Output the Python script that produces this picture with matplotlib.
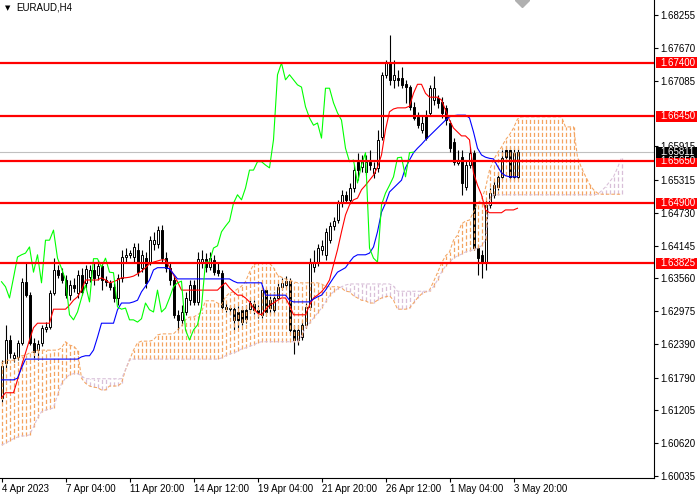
"""
EURAUD H4 candlestick chart with Ichimoku cloud and horizontal price levels.
"""

import matplotlib

matplotlib.use("Agg")
import matplotlib.pyplot as plt
import matplotlib.transforms as mtransforms
from matplotlib.collections import LineCollection
from matplotlib.colors import to_rgba
from matplotlib.patches import Rectangle
import numpy as np

plt.rcParams["font.family"] = ["Liberation Sans", "DejaVu Sans"]

# OHLC for each H4 bar (bar 0 = 4 Apr 2023 12:00)
candle_open = [
    1.6143, 1.6205, 1.6246, 1.6214, 1.6216, 1.6241, 1.6350, 1.6326, 1.6241, 1.6228,
    1.6241, 1.6266, 1.6269, 1.6330, 1.6371, 1.6366, 1.6353, 1.6326, 1.6344, 1.6330,
    1.6362, 1.6348, 1.6358, 1.6371, 1.6362, 1.6378, 1.6353, 1.6348, 1.6341, 1.6321,
    1.6357, 1.6394, 1.6398, 1.6394, 1.6407, 1.6374, 1.6392, 1.6385, 1.6417, 1.6417,
    1.6442, 1.6392, 1.6374, 1.6353, 1.6291, 1.6282, 1.6296, 1.6317, 1.6344, 1.6314,
    1.6385, 1.6391, 1.6376, 1.6389, 1.6371, 1.6366, 1.6305, 1.6301, 1.6301, 1.6296,
    1.6300, 1.6300, 1.6301, 1.6310, 1.6300, 1.6291, 1.6335, 1.6317, 1.6300, 1.6321,
    1.6341, 1.6344, 1.6351, 1.6264, 1.6246, 1.6251, 1.6273, 1.6305, 1.6376, 1.6383,
    1.6407, 1.6398, 1.6424, 1.6449, 1.6460, 1.6490, 1.6505, 1.6496, 1.6517, 1.6564,
    1.6555, 1.6546, 1.6564, 1.6544, 1.6553, 1.6608, 1.6719, 1.6740, 1.6710, 1.6713,
    1.6713, 1.6703, 1.6697, 1.6662, 1.6644, 1.6620, 1.6647, 1.6651, 1.6674, 1.6678,
    1.6670, 1.6660, 1.6633, 1.6599, 1.6562, 1.6572, 1.6519, 1.6558, 1.6580, 1.6410,
    1.6398, 1.6385, 1.6487, 1.6505, 1.6519, 1.6537, 1.6585, 1.6585, 1.6537, 1.6537,
]
candle_high = [
    1.6210, 1.6273, 1.6255, 1.6225, 1.6246, 1.6357, 1.6383, 1.6332, 1.6250, 1.6246,
    1.6273, 1.6278, 1.6335, 1.6392, 1.6380, 1.6375, 1.6362, 1.6353, 1.6357, 1.6371,
    1.6375, 1.6380, 1.6380, 1.6385, 1.6389, 1.6385, 1.6360, 1.6353, 1.6348, 1.6364,
    1.6407, 1.6410, 1.6407, 1.6419, 1.6419, 1.6407, 1.6403, 1.6432, 1.6439, 1.6449,
    1.6451, 1.6403, 1.6385, 1.6360, 1.6300, 1.6309, 1.6332, 1.6353, 1.6353, 1.6403,
    1.6407, 1.6401, 1.6403, 1.6398, 1.6385, 1.6371, 1.6312, 1.6309, 1.6307, 1.6307,
    1.6307, 1.6309, 1.6321, 1.6317, 1.6309, 1.6344, 1.6339, 1.6325, 1.6332, 1.6348,
    1.6357, 1.6360, 1.6357, 1.6273, 1.6273, 1.6282, 1.6312, 1.6392, 1.6407, 1.6417,
    1.6424, 1.6446, 1.6457, 1.6465, 1.6496, 1.6514, 1.6512, 1.6526, 1.6558, 1.6580,
    1.6576, 1.6576, 1.6585, 1.6564, 1.6621, 1.6724, 1.6745, 1.6790, 1.6745, 1.6727,
    1.6733, 1.6710, 1.6701, 1.6670, 1.6653, 1.6647, 1.6656, 1.6701, 1.6717, 1.6683,
    1.6679, 1.6665, 1.6638, 1.6606, 1.6585, 1.6585, 1.6567, 1.6590, 1.6585, 1.6416,
    1.6407, 1.6496, 1.6517, 1.6531, 1.6546, 1.6585, 1.6592, 1.6590, 1.6588, 1.6588,
]
candle_low = [
    1.6136, 1.6193, 1.6214, 1.6207, 1.6210, 1.6237, 1.6323, 1.6237, 1.6214, 1.6210,
    1.6235, 1.6260, 1.6266, 1.6326, 1.6357, 1.6348, 1.6321, 1.6317, 1.6332, 1.6321,
    1.6326, 1.6339, 1.6350, 1.6344, 1.6353, 1.6335, 1.6342, 1.6335, 1.6314, 1.6309,
    1.6350, 1.6385, 1.6392, 1.6385, 1.6360, 1.6367, 1.6339, 1.6380, 1.6407, 1.6410,
    1.6385, 1.6367, 1.6344, 1.6285, 1.6264, 1.6273, 1.6291, 1.6309, 1.6309, 1.6309,
    1.6374, 1.6367, 1.6371, 1.6362, 1.6360, 1.6300, 1.6296, 1.6292, 1.6264, 1.6268,
    1.6273, 1.6276, 1.6296, 1.6292, 1.6285, 1.6285, 1.6289, 1.6292, 1.6292, 1.6317,
    1.6335, 1.6339, 1.6259, 1.6221, 1.6237, 1.6246, 1.6268, 1.6300, 1.6367, 1.6378,
    1.6398, 1.6389, 1.6419, 1.6442, 1.6455, 1.6483, 1.6490, 1.6490, 1.6510, 1.6531,
    1.6546, 1.6540, 1.6549, 1.6535, 1.6546, 1.6603, 1.6713, 1.6701, 1.6695, 1.6699,
    1.6695, 1.6669, 1.6656, 1.6638, 1.6624, 1.6615, 1.6603, 1.6646, 1.6665, 1.6660,
    1.6642, 1.6629, 1.6581, 1.6558, 1.6558, 1.6505, 1.6514, 1.6553, 1.6407, 1.6362,
    1.6357, 1.6371, 1.6481, 1.6499, 1.6514, 1.6531, 1.6567, 1.6531, 1.6531, 1.6533,
]
candle_close = [
    1.6200, 1.6246, 1.6223, 1.6219, 1.6241, 1.6350, 1.6326, 1.6241, 1.6225, 1.6239,
    1.6268, 1.6269, 1.6330, 1.6371, 1.6362, 1.6353, 1.6326, 1.6344, 1.6339, 1.6362,
    1.6332, 1.6373, 1.6371, 1.6357, 1.6378, 1.6353, 1.6350, 1.6341, 1.6321, 1.6357,
    1.6394, 1.6398, 1.6401, 1.6412, 1.6367, 1.6398, 1.6348, 1.6424, 1.6424, 1.6442,
    1.6392, 1.6374, 1.6353, 1.6291, 1.6282, 1.6296, 1.6321, 1.6344, 1.6314, 1.6391,
    1.6391, 1.6376, 1.6392, 1.6367, 1.6366, 1.6305, 1.6301, 1.6303, 1.6282, 1.6282,
    1.6278, 1.6284, 1.6312, 1.6300, 1.6296, 1.6335, 1.6296, 1.6303, 1.6321, 1.6341,
    1.6348, 1.6351, 1.6264, 1.6246, 1.6264, 1.6273, 1.6305, 1.6385, 1.6385, 1.6410,
    1.6414, 1.6439, 1.6449, 1.6458, 1.6490, 1.6505, 1.6496, 1.6517, 1.6549, 1.6549,
    1.6564, 1.6564, 1.6558, 1.6553, 1.6603, 1.6719, 1.6740, 1.6710, 1.6719, 1.6710,
    1.6701, 1.6697, 1.6662, 1.6642, 1.6629, 1.6633, 1.6606, 1.6695, 1.6695, 1.6669,
    1.6651, 1.6638, 1.6588, 1.6564, 1.6567, 1.6526, 1.6558, 1.6580, 1.6410, 1.6392,
    1.6385, 1.6487, 1.6508, 1.6522, 1.6537, 1.6571, 1.6572, 1.6537, 1.6580, 1.6581,
]

# Ichimoku lines as shown on the chart
tenkan = [
    1.6143, 1.6152, 1.6152, 1.6152, 1.6175, 1.6200, 1.6223, 1.6246, 1.6268, 1.6276,
    1.6276, 1.6276, 1.6276, 1.6301, 1.6301, 1.6301, 1.6301, 1.6308, 1.6317, 1.6323,
    1.6335, 1.6353, 1.6353, 1.6353, 1.6353, 1.6357, 1.6353, 1.6348, 1.6350, 1.6353,
    1.6357, 1.6357, 1.6358, 1.6360, 1.6364, 1.6369, 1.6375, 1.6382, 1.6385, 1.6387,
    1.6389, 1.6389, 1.6376, 1.6362, 1.6350, 1.6335, 1.6335, 1.6335, 1.6335, 1.6335,
    1.6335, 1.6335, 1.6335, 1.6335, 1.6335, 1.6342, 1.6348, 1.6339, 1.6332, 1.6326,
    1.6326, 1.6321, 1.6314, 1.6303, 1.6294, 1.6291, 1.6300, 1.6308, 1.6312, 1.6317,
    1.6321, 1.6321, 1.6308, 1.6291, 1.6291, 1.6291, 1.6291, 1.6308, 1.6321, 1.6326,
    1.6332, 1.6341, 1.6353, 1.6380, 1.6407, 1.6439, 1.6469, 1.6487, 1.6496, 1.6499,
    1.6514, 1.6522, 1.6531, 1.6540, 1.6554, 1.6576, 1.6621, 1.6653, 1.6658, 1.6660,
    1.6660, 1.6660, 1.6663, 1.6686, 1.6702, 1.6702, 1.6686, 1.6679, 1.6679, 1.6679,
    1.6674, 1.6656, 1.6638, 1.6624, 1.6617, 1.6610, 1.6610, 1.6603, 1.6544, 1.6522,
    1.6505, 1.6478, 1.6473, 1.6473, 1.6473, 1.6473, 1.6478, 1.6478, 1.6478, 1.6481,
]
kijun = [
    1.6175, 1.6175, 1.6175, 1.6175, 1.6178, 1.6196, 1.6212, 1.6212, 1.6212, 1.6212,
    1.6212, 1.6212, 1.6212, 1.6212, 1.6212, 1.6212, 1.6212, 1.6212, 1.6212, 1.6212,
    1.6216, 1.6218, 1.6218, 1.6228, 1.6251, 1.6276, 1.6276, 1.6276, 1.6276, 1.6300,
    1.6312, 1.6312, 1.6312, 1.6314, 1.6317, 1.6332, 1.6342, 1.6353, 1.6371, 1.6375,
    1.6375, 1.6375, 1.6373, 1.6364, 1.6355, 1.6355, 1.6355, 1.6355, 1.6355, 1.6355,
    1.6355, 1.6355, 1.6355, 1.6355, 1.6355, 1.6355, 1.6355, 1.6355, 1.6351, 1.6348,
    1.6348, 1.6348, 1.6348, 1.6348, 1.6348, 1.6348, 1.6326, 1.6326, 1.6326, 1.6326,
    1.6326, 1.6326, 1.6317, 1.6314, 1.6314, 1.6314, 1.6314, 1.6314, 1.6319, 1.6323,
    1.6326, 1.6335, 1.6346, 1.6357, 1.6367, 1.6371, 1.6375, 1.6385, 1.6394, 1.6398,
    1.6398, 1.6398, 1.6401, 1.6412, 1.6439, 1.6474, 1.6490, 1.6510, 1.6517, 1.6524,
    1.6531, 1.6553, 1.6567, 1.6580, 1.6588, 1.6595, 1.6603, 1.6610, 1.6617, 1.6624,
    1.6631, 1.6638, 1.6644, 1.6646, 1.6647, 1.6647, 1.6647, 1.6642, 1.6617, 1.6588,
    1.6576, 1.6572, 1.6570, 1.6569, 1.6556, 1.6544, 1.6539, 1.6537, 1.6537, 1.6537,
]
# senkou spans, already shifted 26 bars ahead (156 bars)
span_a = [
    1.6205, 1.6210, 1.6210, 1.6210, 1.6214, 1.6218, 1.6219, 1.6223, 1.6225, 1.6228,
    1.6228, 1.6228, 1.6228, 1.6228, 1.6228, 1.6232, 1.6243, 1.6237, 1.6235, 1.6228,
    1.6178, 1.6169, 1.6164, 1.6162, 1.6161, 1.6157, 1.6157, 1.6164, 1.6164, 1.6164,
    1.6169, 1.6193, 1.6210, 1.6228, 1.6241, 1.6244, 1.6244, 1.6244, 1.6246, 1.6255,
    1.6257, 1.6257, 1.6257, 1.6257, 1.6264, 1.6271, 1.6282, 1.6287, 1.6287, 1.6291,
    1.6296, 1.6316, 1.6316, 1.6316, 1.6312, 1.6309, 1.6323, 1.6330, 1.6332, 1.6337,
    1.6342, 1.6350, 1.6367, 1.6380, 1.6383, 1.6383, 1.6383, 1.6383, 1.6375, 1.6362,
    1.6358, 1.6355, 1.6353, 1.6350, 1.6348, 1.6348, 1.6348, 1.6348, 1.6348, 1.6348,
    1.6346, 1.6342, 1.6341, 1.6341, 1.6341, 1.6339, 1.6333, 1.6332, 1.6325, 1.6321,
    1.6317, 1.6316, 1.6312, 1.6312, 1.6317, 1.6321, 1.6323, 1.6325, 1.6317, 1.6301,
    1.6301, 1.6301, 1.6303, 1.6312, 1.6321, 1.6328, 1.6332, 1.6335, 1.6350, 1.6366,
    1.6383, 1.6396, 1.6403, 1.6424, 1.6433, 1.6453, 1.6458, 1.6460, 1.6474, 1.6490,
    1.6496, 1.6517, 1.6549, 1.6567, 1.6580, 1.6590, 1.6603, 1.6612, 1.6624, 1.6640,
    1.6644, 1.6644, 1.6644, 1.6644, 1.6644, 1.6644, 1.6644, 1.6644, 1.6644, 1.6644,
    1.6644, 1.6626, 1.6626, 1.6626, 1.6572, 1.6553, 1.6538, 1.6524, 1.6514, 1.6508,
    1.6506, 1.6506, 1.6506, 1.6506, 1.6506, 1.6506,
]
span_b = [
    1.6059, 1.6062, 1.6066, 1.6070, 1.6073, 1.6075, 1.6075, 1.6077, 1.6091, 1.6107,
    1.6118, 1.6121, 1.6123, 1.6125, 1.6148, 1.6168, 1.6178, 1.6184, 1.6186, 1.6186,
    1.6182, 1.6177, 1.6177, 1.6177, 1.6177, 1.6177, 1.6177, 1.6177, 1.6177, 1.6177,
    1.6177, 1.6193, 1.6212, 1.6212, 1.6212, 1.6212, 1.6212, 1.6212, 1.6212, 1.6212,
    1.6212, 1.6212, 1.6212, 1.6212, 1.6212, 1.6212, 1.6212, 1.6212, 1.6212, 1.6212,
    1.6212, 1.6212, 1.6212, 1.6212, 1.6212, 1.6214, 1.6218, 1.6221, 1.6223, 1.6226,
    1.6230, 1.6232, 1.6235, 1.6237, 1.6241, 1.6243, 1.6243, 1.6243, 1.6243, 1.6243,
    1.6243, 1.6243, 1.6243, 1.6243, 1.6243, 1.6253, 1.6268, 1.6276, 1.6285, 1.6294,
    1.6303, 1.6314, 1.6325, 1.6332, 1.6337, 1.6341, 1.6344, 1.6346, 1.6346, 1.6346,
    1.6346, 1.6346, 1.6346, 1.6346, 1.6346, 1.6346, 1.6346, 1.6346, 1.6342, 1.6333,
    1.6333, 1.6333, 1.6333, 1.6333, 1.6333, 1.6333, 1.6333, 1.6333, 1.6341, 1.6353,
    1.6367, 1.6378, 1.6385, 1.6392, 1.6396, 1.6399, 1.6403, 1.6405, 1.6407, 1.6410,
    1.6414, 1.6424, 1.6496, 1.6505, 1.6505, 1.6505, 1.6505, 1.6505, 1.6505, 1.6505,
    1.6505, 1.6505, 1.6505, 1.6505, 1.6505, 1.6505, 1.6505, 1.6505, 1.6505, 1.6505,
    1.6505, 1.6505, 1.6505, 1.6505, 1.6505, 1.6505, 1.6505, 1.6505, 1.6505, 1.6506,
    1.6512, 1.6519, 1.6528, 1.6537, 1.6553, 1.6571,
]

# horizontal support / resistance levels
levels = [1.67400, 1.66450, 1.65650, 1.64900, 1.63825]
level_labels = ["1.67400", "1.66450", "1.65650", "1.64900", "1.63825"]
last_price = 1.65811
last_label = "1.65811"

# the 1.66500 step sits under the 1.66450 box, so it is left out
price_ticks = [1.68255, 1.67670, 1.67085, 1.65915, 1.65315, 1.64730,
               1.64145, 1.63560, 1.62975, 1.62390, 1.61790, 1.61205, 1.60620, 1.60035]
price_tick_labels = ["1.68255", "1.67670", "1.67085", "1.65915", "1.65315",
                     "1.64730", "1.64145", "1.63560", "1.62975", "1.62390", "1.61790",
                     "1.61205", "1.60620", "1.60035"]
date_ticks = [0, 16, 32, 48, 64, 80, 96, 112, 128]
date_labels = ["4 Apr 2023", "7 Apr 04:00", "11 Apr 20:00", "14 Apr 12:00",
               "19 Apr 04:00", "21 Apr 20:00", "26 Apr 12:00", "1 May 04:00",
               "3 May 20:00"]

SHIFT = 26
UP_KUMO = "#F4A460"
DOWN_KUMO = "#D8BFD8"
FONT = 7
DASH = (0, (3.3, 1.9))


def draw_candles(ax, o, h, l, c):
    idx = np.arange(len(c))
    ax.vlines(idx, l, h, color="black", lw=0.8, zorder=2)
    bottom = np.minimum(o, c)
    height = np.maximum(np.abs(c - o), 0.00004)
    face = ["white" if cc >= oo else "black" for oo, cc in zip(o, c)]
    ax.bar(idx, height, bottom=bottom, width=0.5, color=face,
           edgecolor="black", linewidth=0.7, zorder=2)


def draw_cloud(ax, a, b):
    # vertical dashed hatch, one stroke per bar, coloured by which span is on top
    segs = [[(i, min(aa, bb)), (i, max(aa, bb))] for i, (aa, bb) in enumerate(zip(a, b))]
    cols = [to_rgba(UP_KUMO) if aa >= bb else to_rgba(DOWN_KUMO) for aa, bb in zip(a, b)]
    hatch = LineCollection(segs, colors=cols, linewidths=0.9, linestyles=[DASH],
                           zorder=3)
    ax.add_collection(hatch)
    idx = np.arange(len(a))
    ax.plot(idx, a, color=UP_KUMO, lw=0.75, ls=DASH, zorder=3)
    ax.plot(idx, b, color=DOWN_KUMO, lw=0.75, ls=DASH, zorder=3)


fig = plt.figure(figsize=(7, 5), dpi=100)
ax = fig.add_axes([0, 1 - 478 / 500, 654 / 700, 478 / 500])

o = np.array(candle_open)
h = np.array(candle_high)
l = np.array(candle_low)
c = np.array(candle_close)

draw_candles(ax, o, h, l, c)
draw_cloud(ax, span_a, span_b)

bars = np.arange(len(c))
ax.plot(bars, tenkan, color="#FF0000", lw=0.8, zorder=4)
ax.plot(bars, kijun, color="#0000FF", lw=0.8, zorder=4)
# chikou span: close plotted 26 bars back
ax.plot(bars[SHIFT:] - SHIFT, c[SHIFT:], color="#00FF00", lw=0.8, zorder=4)

ax.axhline(last_price, color="#C0C0C0", lw=0.8, zorder=1)
for lev in levels:
    ax.axhline(lev, color="#FF0000", lw=1.6, zorder=5)

# bar centres fall on pixel centres (4 px per bar)
ax.set_xlim(-0.375, 163.125)
ax.set_ylim(1.60000, 1.68523)

for side in ("left", "top"):
    ax.spines[side].set_visible(False)
for side in ("right", "bottom"):
    ax.spines[side].set_linewidth(0.8)

ax.yaxis.tick_right()
ax.set_yticks(price_ticks)
ax.set_yticklabels(price_tick_labels)
ax.tick_params(axis="y", length=3, width=0.8, pad=1.5, labelsize=FONT)
ax.set_xticks(date_ticks)
ax.set_xticklabels(date_labels, ha="left")
ax.tick_params(axis="x", length=3, width=0.8, pad=1.5, labelsize=FONT)

# price boxes on the right scale
box_tr = mtransforms.blended_transform_factory(fig.transFigure, ax.transData)
half = 5.5 * (1.68523 - 1.60000) / 478
boxes = list(zip(levels, level_labels, ["#FF0000"] * len(levels)))
boxes.append((last_price, last_label, "black"))
for lev, txt, col in boxes:
    fig.patches.append(Rectangle((656 / 700, lev - half), 41 / 700, 2 * half,
                                 transform=box_tr, facecolor=col,
                                 edgecolor="none", zorder=6))
    fig.text(660 / 700, lev, txt, transform=box_tr, color="white",
             fontsize=FONT, va="center", ha="left", zorder=7)

fig.text(5 / 700, 1 - 8 / 500, "\u25bc", family="DejaVu Sans", fontsize=5,
         va="center", ha="left")
fig.text(16 / 700, 1 - 8 / 500, "EURAUD,H4", fontsize=FONT, va="center", ha="left")
ax.plot([130], [1.68523], marker="D", ms=7, color="#B0B0B0", clip_on=False, zorder=6)

fig.savefig("out.png", dpi=100)
plt.close(fig)
